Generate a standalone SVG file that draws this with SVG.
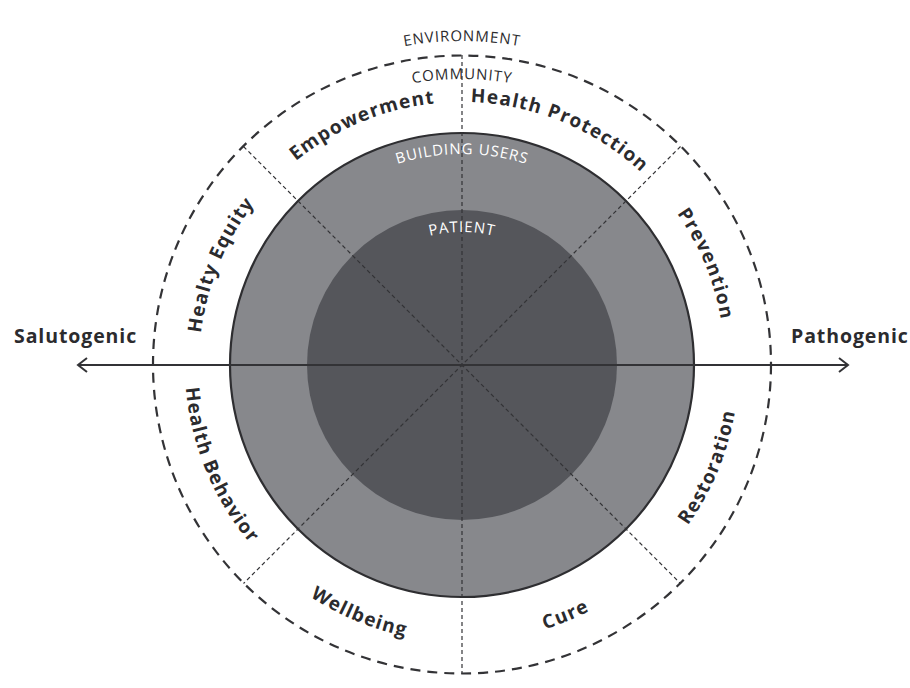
<svg xmlns="http://www.w3.org/2000/svg" width="910" height="688" viewBox="0 0 910 688">
<defs>
<style>
.lbl{font-family:"Open Sans","Liberation Sans",sans-serif;font-weight:700;font-size:19px;fill:#2b2b2e;letter-spacing:1.2px}
.ax{font-family:"Open Sans","Liberation Sans",sans-serif;font-weight:700;font-size:19.5px;fill:#2b2b2e;letter-spacing:0.9px}
.thin{font-family:"Open Sans","Liberation Sans",sans-serif;font-weight:400;font-size:15px;letter-spacing:0.9px}
.dk{fill:#2b2b2e}
.wh{fill:#ffffff}
.div{stroke:#333336;stroke-width:1.2;stroke-dasharray:4 3;fill:none}
</style>
<path id="topArc" d="M 199,365 A 263 263 0 0 1 725,365"/>
<path id="botArc" d="M 185,365 A 277 277 0 0 0 739,365"/>
<path id="envArc" d="M 138,365 A 324 324 0 0 1 786,365"/>
<path id="comArc" d="M 176,365 A 286 286 0 0 1 748,365"/>
<path id="bldArc" d="M 251,365 A 211 211 0 0 1 673,365"/>
<path id="patArc" d="M 329,365 A 133 133 0 0 1 595,365"/>
<marker id="arr" markerWidth="14" markerHeight="16" refX="12" refY="8" orient="auto-start-reverse" markerUnits="userSpaceOnUse">
<polyline points="3,1 12,8 3,15" fill="none" stroke="#333336" stroke-width="2"/>
</marker>
</defs>
<rect width="910" height="688" fill="#ffffff"/>
<g id="rings">
<circle id="environment-ring" cx="462" cy="364.5" r="309" fill="none" stroke="#333336" stroke-width="2.2" stroke-dasharray="10 7"/>
<circle id="building-users" cx="462" cy="365" r="232" fill="#87888c" stroke="#2e2e31" stroke-width="2.2"/>
<circle id="patient" cx="462" cy="365" r="155" fill="#55565b"/>
</g>
<g id="connectors">
<line class="div" x1="462" y1="55" x2="462" y2="674"/>
<line class="div" x1="243.5" y1="146.5" x2="680.5" y2="583.5"/>
<line class="div" x1="680.5" y1="146.5" x2="243.5" y2="583.5"/>
<line x1="78" y1="365" x2="848" y2="365" stroke="#333336" stroke-width="2" marker-start="url(#arr)" marker-end="url(#arr)"/>
</g>
<g id="ring-labels">
<text class="thin dk"><textPath href="#envArc" startOffset="50%" text-anchor="middle">ENVIRONMENT</textPath></text>
<text class="thin dk"><textPath href="#comArc" startOffset="50%" text-anchor="middle">COMMUNITY</textPath></text>
<text class="thin wh"><textPath href="#bldArc" startOffset="50%" text-anchor="middle">BUILDING USERS</textPath></text>
<text class="thin wh"><textPath href="#patArc" startOffset="50%" text-anchor="middle">PATIENT</textPath></text>
</g>
<g id="healthy-equity"><text class="lbl"><textPath href="#topArc" startOffset="12.5%" text-anchor="middle">Healty Equity</textPath></text></g>
<g id="empowerment"><text class="lbl"><textPath href="#topArc" startOffset="37.5%" text-anchor="middle">Empowerment</textPath></text></g>
<g id="health-protection"><text class="lbl"><textPath href="#topArc" startOffset="62.5%" text-anchor="middle">Health Protection</textPath></text></g>
<g id="prevention"><text class="lbl"><textPath href="#topArc" startOffset="87.5%" text-anchor="middle">Prevention</textPath></text></g>
<g id="health-behavior"><text class="lbl"><textPath href="#botArc" startOffset="12.5%" text-anchor="middle">Health Behavior</textPath></text></g>
<g id="wellbeing"><text class="lbl"><textPath href="#botArc" startOffset="37.5%" text-anchor="middle">Wellbeing</textPath></text></g>
<g id="cure"><text class="lbl"><textPath href="#botArc" startOffset="62.5%" text-anchor="middle">Cure</textPath></text></g>
<g id="restoration"><text class="lbl"><textPath href="#botArc" startOffset="87.5%" text-anchor="middle">Restoration</textPath></text></g>
<g id="salutogenic"><text class="ax" x="14" y="343">Salutogenic</text></g>
<g id="pathogenic"><text class="ax" x="791" y="343">Pathogenic</text></g>
</svg>
